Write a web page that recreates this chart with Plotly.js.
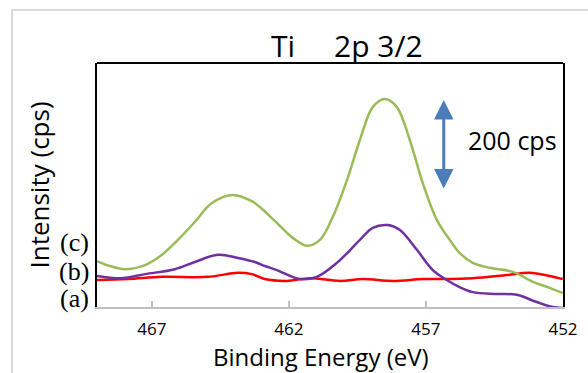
<!DOCTYPE html>
<html>
<head>
<meta charset="utf-8">
<script src="https://cdn.plot.ly/plotly-3.0.1.min.js"></script>
<style>
  html, body { margin: 0; padding: 0; background: #fff; }
  #chart { width: 588px; height: 373px; }
</style>
</head>
<body>
<div id="chart"></div>
<script>
// Binding energy (eV) and intensity (cps)
const energyA = [469.0, 467.87, 466.63, 464.95, 463.86, 463.35, 462.88, 462.07, 461.23, 460.14, 459.30, 458.21, 457.12, 456.50, 455.29, 454.05, 453.21, 452.49, 452.01];
const intensityA = [60, 62, 67, 67, 76, 73, 62, 58, 64, 58, 62, 58, 62, 62, 64, 71, 76, 69, 62];

const energyB = [469.0, 468.09, 467.25, 466.16, 465.43, 464.59, 463.86, 463.24, 462.88, 462.44, 461.60, 460.98, 460.25, 459.41, 458.94, 458.39, 457.95, 457.33, 456.75, 456.24, 455.77, 455.29, 454.42, 453.69, 452.96, 452.38, 452.01];
const intensityB = [69, 64, 73, 84, 100, 116, 109, 100, 91, 82, 62, 67, 98, 149, 176, 182, 171, 127, 82, 60, 44, 33, 29, 27, 11, 0, -2];

const energyC = [469.0, 468.53, 467.98, 467.25, 466.63, 466.05, 465.43, 464.81, 464.04, 463.35, 463.06, 462.44, 461.85, 461.34, 460.87, 460.40, 459.88, 459.41, 458.94, 458.50, 458.06, 457.59, 457.12, 456.60, 456.13, 455.77, 455.29, 454.67, 453.83, 453.10, 452.56, 452.01];
const intensityC = [102, 91, 84, 93, 116, 149, 189, 231, 249, 235, 222, 187, 153, 136, 149, 200, 282, 371, 444, 462, 444, 371, 276, 193, 149, 120, 98, 87, 78, 56, 44, 31];

const tickVals = [467, 462, 457, 452];
const tickText = ["467", "462", "457", "452"];
const sampleLabels = ["(a)", "(b)", "(c)"];
const sampleLabelY = [20, 78, 144];
const xTitle = "Binding Energy (eV)";
const yTitle = "Intensity (cps)";

const sansFont = "Open Sans, Noto Sans, sans-serif";

const traces = [
  { x: energyA, y: intensityA, mode: "lines", line: { color: "#FF0000", width: 2.5, shape: "spline" }, hoverinfo: "skip" },
  { x: energyB, y: intensityB, mode: "lines", line: { color: "#7030A0", width: 2.5, shape: "spline" }, hoverinfo: "skip" },
  { x: energyC, y: intensityC, mode: "lines", line: { color: "#9BBB59", width: 2.5, shape: "spline" }, hoverinfo: "skip" }
];

const annotations = sampleLabels.map((t, i) => ({
  text: t, xref: "paper", x: -0.013, xanchor: "right",
  yref: "y", y: sampleLabelY[i], yanchor: "middle",
  showarrow: false,
  font: { family: "Liberation Serif, Times New Roman, serif", size: 26, color: "#000" }
}));

annotations.push({
  x: 456.35, y: 460, xref: "x", yref: "y",
  ax: 456.35, ay: 260, axref: "x", ayref: "y",
  text: "", showarrow: true, arrowhead: 2, startarrowhead: 2, arrowside: "end+start",
  arrowsize: 1.3, startarrowsize: 1.3, arrowwidth: 3, arrowcolor: "#4A7EBB", standoff: 0, startstandoff: 0
});
annotations.push({
  x: 455.55, y: 371, xref: "x", yref: "y", xanchor: "left", yanchor: "middle",
  text: "200 cps", showarrow: false,
  font: { family: sansFont, size: 25, color: "#000" }
});
// x-axis title placed as an annotation so its position can be set exactly
annotations.push({
  text: xTitle, xref: "paper", x: 0.481, xanchor: "center",
  yref: "paper", y: -0.201, yanchor: "middle",
  showarrow: false,
  font: { family: sansFont, size: 24, color: "#000" }
});

const layout = {
  width: 588, height: 373,
  margin: { l: 97, r: 25, t: 63, b: 66 },
  paper_bgcolor: "#fff", plot_bgcolor: "#fff",
  showlegend: false,
  title: {
    text: "Ti\u00a0\u00a0\u00a0\u00a0 2p 3/2",
    xref: "paper", x: 0.536, xanchor: "center",
    yref: "container", y: 0.874, yanchor: "middle",
    font: { family: sansFont, size: 30, color: "#000" }
  },
  xaxis: {
    range: [469, 452],
    tickvals: tickVals, ticktext: tickText,
    ticks: "inside", ticklen: 6, tickwidth: 1.5, tickcolor: "#BFBFBF",
    showline: true, linecolor: "#BFBFBF", linewidth: 2,
    showgrid: false, zeroline: false,
    layer: "below traces",
    ticklabelstandoff: 6,
    tickfont: { family: sansFont, size: 17, color: "#000" }
  },
  yaxis: {
    range: [0, 542],
    showticklabels: false, ticks: "",
    showline: true, linecolor: "#000", linewidth: 2, mirror: true,
    showgrid: false, zeroline: false,
    title: { text: yTitle, standoff: 38, font: { family: sansFont, size: 26, color: "#000" } }
  },
  shapes: [
    { type: "line", xref: "paper", yref: "paper", x0: 0, x1: 1, y0: 1, y1: 1, line: { color: "#000", width: 2 } },
    { type: "rect", xref: "paper", yref: "paper", x0: -0.1824, x1: 1.1, y0: -0.4, y1: 1.217, line: { color: "#D9D9D9", width: 2 }, layer: "below" }
  ],
  annotations: annotations
};

Plotly.newPlot("chart", traces, layout, { staticPlot: true, displayModeBar: false });
</script>
</body>
</html>
